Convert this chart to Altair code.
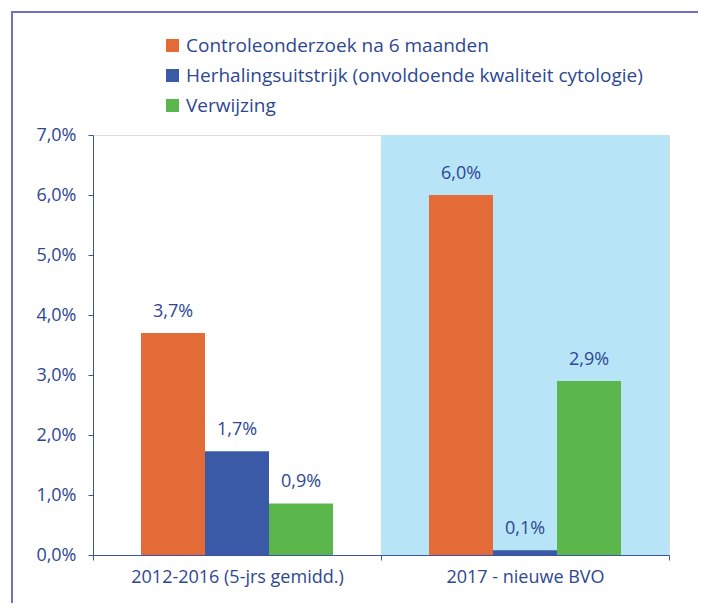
import altair as alt
import pandas as pd

categories = ["2012-2016 (5-jrs gemidd.)", "2017 - nieuwe BVO"]
series = [
    "Controleonderzoek na 6 maanden",
    "Herhalingsuitstrijk (onvoldoende kwaliteit cytologie)",
    "Verwijzing",
]
values_2012 = [3.7, 1.73, 0.86]
values_2017 = [6.0, 0.08, 2.9]
labels_2012 = ["3,7%", "1,7%", "0,9%"]
labels_2017 = ["6,0%", "0,1%", "2,9%"]
colors = ["#E36B37", "#3A5AA8", "#5BB74C"]
highlight_category = "2017 - nieuwe BVO"
y_max = 7

rows = []
for cat, vals, labs in [(categories[0], values_2012, labels_2012),
                        (categories[1], values_2017, labels_2017)]:
    for s, v, l in zip(series, vals, labs):
        rows.append({"cat": cat, "series": s, "value": v, "label": l})
df = pd.DataFrame(rows)
bg = pd.DataFrame([{"cat": highlight_category, "y0": 0, "y1": y_max}])

TXT = "#2E4790"
AX = "#3C55A0"
FONT = "Open Sans"

x_enc = alt.X(
    "cat:N",
    sort=categories,
    scale=alt.Scale(domain=categories, paddingInner=0, paddingOuter=0),
    axis=alt.Axis(
        title=None, labelAngle=0, tickBand="extent", labelFontSize=18,
        labelColor=TXT, labelFont=FONT, domainColor=AX, tickColor=AX,
        tickSize=5, labelPadding=8, labelLimit=400,
    ),
)
y_scale = alt.Scale(domain=[0, y_max], nice=False)

background = alt.Chart(bg).mark_rect(color="#B8E4F7").encode(
    x=x_enc,
    y=alt.Y("y0:Q", scale=y_scale),
    y2="y1:Q",
)

xoff = alt.XOffset(
    "series:N", sort=series,
    scale=alt.Scale(domain=series, paddingInner=0, paddingOuter=0.75),
)

bars = alt.Chart(df).mark_bar().encode(
    x=x_enc,
    xOffset=xoff,
    y=alt.Y(
        "value:Q", scale=y_scale,
        axis=alt.Axis(
            title=None, values=[0, 1, 2, 3, 4, 5, 6, 7],
            labelExpr="replace(format(datum.value, '.1f'), '.', ',') + '%'",
            labelFontSize=18, labelColor=TXT, labelFont=FONT, grid=False,
            domainColor=AX, tickColor=AX, tickSize=5, labelPadding=12,
        ),
    ),
    color=alt.Color(
        "series:N", sort=series,
        scale=alt.Scale(domain=series, range=colors),
        legend=alt.Legend(
            title=None, orient="none", legendX=70, legendY=-99,
            symbolType="square", symbolSize=169, symbolStrokeWidth=0,
            symbolOpacity=1, labelFontSize=19, labelColor=TXT, labelFont=FONT,
            labelLimit=600, rowPadding=10, labelOffset=4,
        ),
    ),
)

text = alt.Chart(df).mark_text(
    baseline="middle", dy=-21, fontSize=18, color=TXT, font=FONT
).encode(
    x=x_enc,
    xOffset=xoff,
    y=alt.Y("value:Q", scale=y_scale),
    text="label:N",
)

frame = alt.Chart(bg).mark_rect(
    fill=None, stroke="#6E70C2", strokeWidth=2, clip=False
).encode(
    x=alt.value(-81), x2=alt.value(607), y=alt.value(-123), y2=alt.value(500),
)

chart = alt.layer(background, bars, text, frame).properties(
    width=576, height=420,
    autosize=alt.AutoSizeParams(type="none"),
    padding={"left": 85, "top": 127, "right": 29, "bottom": 48},
).configure_view(stroke=None).configure(background="white")

chart.save("out.html", embed_options={"renderer": "svg", "actions": False})
